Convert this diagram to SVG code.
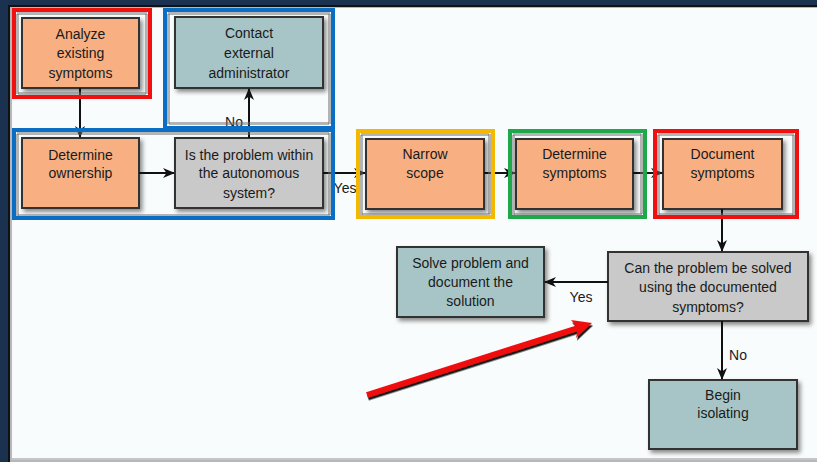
<svg xmlns="http://www.w3.org/2000/svg" width="817" height="462" viewBox="0 0 817 462">
  <defs>
    <filter id="shadow" x="-10%" y="-10%" width="125%" height="130%">
      <feDropShadow dx="2.5" dy="3" stdDeviation="2" flood-color="#000" flood-opacity="0.45"/>
    </filter>
    <filter id="redShadow" x="-5%" y="-30%" width="110%" height="160%">
      <feDropShadow dx="1" dy="2.5" stdDeviation="0.6" flood-color="#000" flood-opacity="0.9"/>
    </filter>
    <marker id="arrow" viewBox="0 0 12 10" refX="11" refY="5" markerWidth="12" markerHeight="10" markerUnits="userSpaceOnUse" orient="auto">
      <path d="M0,0 L12,5 L0,10 L3.5,5 z" fill="#111"/>
    </marker>
  </defs>
  <style>
    .box { stroke: #333; stroke-width: 2; filter: url(#shadow); }
    .orange { fill: #f8b083; }
    .teal { fill: #a7c5c6; }
    .gray { fill: #c9c9c9; }
    text { font-family: "Liberation Sans", Arial, sans-serif; font-size: 14px; fill: #1a1a1a; text-anchor: middle; }
    .edge { stroke: #111; stroke-width: 2; fill: none; marker-end: url(#arrow); }
    .frame { fill: none; stroke-width: 4; }
    .hatch { fill: none; stroke: #6e6e6e; stroke-width: 3; stroke-dasharray: 1 1; }
  </style>

  <!-- window background -->
  <rect x="0" y="0" width="817" height="462" fill="#1a3150"/>
  <rect x="8" y="5" width="809" height="457" fill="#111"/>
  <rect x="10" y="7" width="807" height="455" fill="#b5b8ba"/>
  <rect x="12" y="8" width="805" height="450" fill="#f9fcfc"/>
  <rect x="12" y="458" width="805" height="2" fill="#c4c6c8"/>

  <!-- nodes -->
  <g id="analyze">
    <rect class="box orange" x="22" y="18" width="117" height="70"/>
    <text x="80.5" y="39">Analyze</text>
    <text x="80.5" y="58">existing</text>
    <text x="80.5" y="78">symptoms</text>
  </g>
  <g id="contact">
    <rect class="box teal" x="175" y="17" width="148" height="71"/>
    <text x="249" y="38">Contact</text>
    <text x="249" y="58">external</text>
    <text x="249" y="78">administrator</text>
  </g>
  <g id="ownership">
    <rect class="box orange" x="22" y="138" width="117" height="70"/>
    <text x="80.5" y="160">Determine</text>
    <text x="80.5" y="178">ownership</text>
  </g>
  <g id="within-as">
    <rect class="box gray" x="175" y="138" width="148" height="70"/>
    <text x="249" y="160">Is the problem within</text>
    <text x="249" y="178">the autonomous</text>
    <text x="249" y="198">system?</text>
  </g>
  <g id="narrow">
    <rect class="box orange" x="366" y="139" width="118" height="70"/>
    <text x="425" y="159">Narrow</text>
    <text x="425" y="178">scope</text>
  </g>
  <g id="determine-symptoms">
    <rect class="box orange" x="516" y="139" width="117" height="70"/>
    <text x="574.5" y="159">Determine</text>
    <text x="574.5" y="178">symptoms</text>
  </g>
  <g id="document">
    <rect class="box orange" x="663" y="139" width="119" height="70"/>
    <text x="722.5" y="159">Document</text>
    <text x="722.5" y="178">symptoms</text>
  </g>
  <g id="can-solve">
    <rect class="box gray" x="608" y="252" width="200" height="69"/>
    <text x="708" y="273">Can the problem be solved</text>
    <text x="708" y="292">using the documented</text>
    <text x="708" y="312">symptoms?</text>
  </g>
  <g id="solve">
    <rect class="box teal" x="397" y="247" width="147" height="70"/>
    <text x="470.5" y="268">Solve problem and</text>
    <text x="470.5" y="287">document the</text>
    <text x="470.5" y="306">solution</text>
  </g>
  <g id="begin">
    <rect class="box teal" x="649" y="380" width="148" height="69"/>
    <text x="723" y="400">Begin</text>
    <text x="723" y="418">isolating</text>
  </g>

  <!-- connectors -->
  <g id="connectors">
    <line class="edge" x1="80" y1="88" x2="80" y2="137"/>
    <line class="edge" x1="139" y1="173" x2="174" y2="173"/>
    <line class="edge" x1="249" y1="138" x2="249" y2="89"/>
    <line class="edge" x1="323" y1="173" x2="365" y2="173"/>
    <line class="edge" x1="484" y1="173" x2="515" y2="173"/>
    <line class="edge" x1="633" y1="173" x2="662" y2="173"/>
    <line class="edge" x1="722" y1="209" x2="722" y2="251"/>
    <line class="edge" x1="608" y1="282" x2="545" y2="282"/>
    <line class="edge" x1="722" y1="321" x2="722" y2="379"/>
    <text x="234" y="127">No</text>
    <text x="345" y="193">Yes</text>
    <text x="581" y="302">Yes</text>
    <text x="738" y="360">No</text>
  </g>

  <!-- highlight frames -->
  <g id="frames">
    <rect class="hatch" x="17.5" y="13.5" width="129" height="80"/>
    <rect class="frame" x="14" y="10" width="136" height="87" stroke="#f01010"/>
    <rect class="hatch" x="168.5" y="13.5" width="161" height="110"/>
    <rect class="hatch" x="17.5" y="133.5" width="312" height="82"/>
    <rect class="frame" x="165" y="10" width="168" height="118" stroke="#0a6fc4"/>
    <rect class="frame" x="14" y="130" width="319" height="88" stroke="#0a6fc4"/>
    <rect class="hatch" x="361.5" y="134.5" width="128" height="80"/>
    <rect class="frame" x="358" y="131" width="135" height="86" stroke="#f5b800"/>
    <rect class="hatch" x="513.5" y="134.5" width="128" height="80"/>
    <rect class="frame" x="510" y="131" width="135" height="86" stroke="#1ea84a"/>
    <rect class="hatch" x="658.5" y="134.5" width="135" height="80"/>
    <rect class="frame" x="655" y="131" width="142" height="86" stroke="#f01010"/>
  </g>

  <!-- pointer arrow -->
  <g id="pointer" filter="url(#redShadow)">
    <line x1="367" y1="395" x2="578" y2="328" stroke="#f01010" stroke-width="6"/>
    <path d="M592,323 L571,320 L578,328 L576,338 z" fill="#f01010"/>
  </g>
</svg>
